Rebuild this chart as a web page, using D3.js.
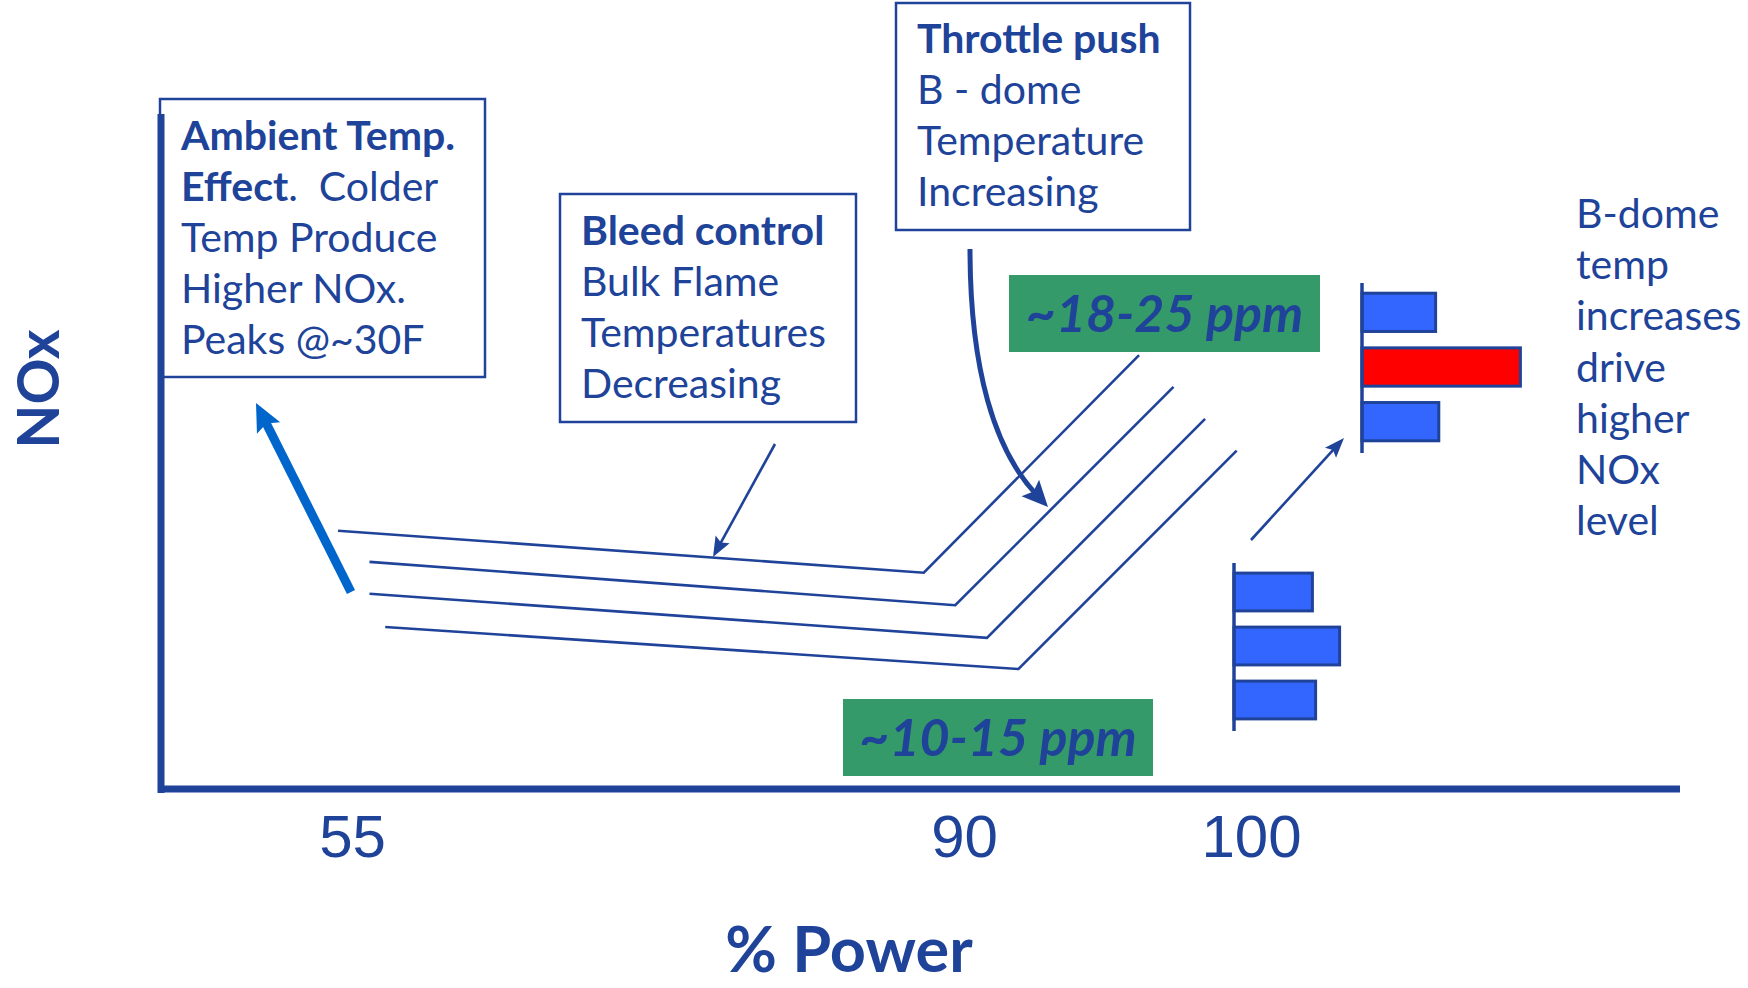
<!DOCTYPE html>
<html>
<head>
<meta charset="utf-8">
<script src="https://cdn.jsdelivr.net/npm/d3@7"></script>
<style>
  html, body { margin: 0; padding: 0; background: #ffffff; }
  svg { display: block; }
</style>
</head>
<body>
<div id="chart"></div>
<script>
// ---- data -------------------------------------------------------------
const powerTicks = [55, 90, 100];

// Four NOx-vs-power characteristics (ambient temperature family),
// each: start of bleed region, knee, end of throttle push.
const curvePower = [
  [54.2, 87.7, 96.1],
  [56.0, 89.5, 97.3],
  [56.0, 90.8, 98.4],
  [56.9, 91.9, 99.5]
];
const curveNOx = [
  [38.1, 31.9, 64.0],
  [33.5, 27.1, 59.3],
  [28.8, 22.3, 54.6],
  [23.9, 17.7, 49.9]
];

// B-dome temperature spread (relative), before and after throttle push
const domeRows = ["dome 1", "dome 2", "dome 3"];
const domeBefore = [4.9, 6.6, 5.1];
const domeAfter = [4.6, 9.9, 4.8];
const domeHot = [false, true, false];

const lowBand = "~10-15 ppm";
const highBand = "~18-25 ppm";

// ---- layout -----------------------------------------------------------
const W = 1748, H = 988;
const INK = "#20439a";
const GREEN = "#359a69";
const BAR_BLUE = "#3366ff";
const ARROW_BLUE = "#0066cc";
const FONT = "Lato, 'Open Sans', 'Noto Sans', sans-serif";

const svg = d3.select("#chart").append("svg")
  .attr("width", W).attr("height", H)
  .attr("viewBox", `0 0 ${W} ${H}`);

const x = d3.scaleLinear().domain([55, 90, 100]).range([352, 964, 1251]);
const y = d3.scaleLinear().domain([0, 100]).range([789, 111]);

// ---- annotation boxes -------------------------------------------------
function textBox(g, box, lines) {
  g.append("rect")
    .attr("x", box.x).attr("y", box.y)
    .attr("width", box.w).attr("height", box.h)
    .attr("fill", "#fff").attr("stroke", INK).attr("stroke-width", 2.5);
  const t = g.append("text")
    .attr("font-family", FONT).attr("font-size", 41).attr("fill", INK)
    .attr("xml:space", "preserve");
  lines.forEach((runs, i) => {
    runs.forEach((r, j) => {
      const ts = t.append("tspan").text(r.t)
        .attr("font-weight", r.b ? 700 : 400);
      if (j === 0) ts.attr("x", box.tx).attr("y", box.ty + i * 51);
    });
  });
}

const notes = svg.append("g");
textBox(notes, { x: 160, y: 99, w: 325, h: 278, tx: 181, ty: 150 }, [
  [{ t: "Ambient Temp.", b: true }],
  [{ t: "Effect", b: true }, { t: ".  Colder" }],
  [{ t: "Temp Produce" }],
  [{ t: "Higher NOx." }],
  [{ t: "Peaks @~30F" }]
]);
textBox(notes, { x: 560, y: 194, w: 296, h: 228, tx: 581, ty: 245 }, [
  [{ t: "Bleed control", b: true }],
  [{ t: "Bulk Flame" }],
  [{ t: "Temperatures" }],
  [{ t: "Decreasing" }]
]);
textBox(notes, { x: 896, y: 3, w: 294, h: 227, tx: 917, ty: 53 }, [
  [{ t: "Throttle push", b: true }],
  [{ t: "B - dome" }],
  [{ t: "Temperature" }],
  [{ t: "Increasing" }]
]);

const sideText = ["B-dome", "temp", "increases", "drive", "higher", "NOx", "level"];
svg.append("text")
  .attr("font-family", FONT).attr("font-size", 41).attr("fill", INK)
  .selectAll("tspan").data(sideText).join("tspan")
  .attr("x", 1576).attr("y", (d, i) => 228 + i * 51.2)
  .text(d => d);

// ---- ppm bands --------------------------------------------------------
function ppmLabel(box, label) {
  svg.append("rect").attr("x", box.x).attr("y", box.y)
    .attr("width", box.w).attr("height", box.h).attr("fill", GREEN);
  svg.append("text")
    .attr("x", box.x + box.w / 2).attr("y", box.y + box.h / 2 + 18)
    .attr("text-anchor", "middle")
    .attr("font-family", FONT).attr("font-size", 52)
    .attr("font-weight", 700).attr("font-style", "italic")
    .attr("fill", INK).text(label);
}
ppmLabel({ x: 1009, y: 275, w: 311, h: 77 }, highBand);
ppmLabel({ x: 843, y: 699, w: 310, h: 77 }, lowBand);

// ---- characteristic curves -------------------------------------------
const line = d3.line().x(d => x(d[0])).y(d => y(d[1]));
svg.append("g").selectAll("path")
  .data(curvePower.map((ps, i) => ps.map((p, k) => [p, curveNOx[i][k]])))
  .join("path")
  .attr("d", line)
  .attr("fill", "none").attr("stroke", INK).attr("stroke-width", 2.6)
  .attr("stroke-linejoin", "miter");

// ---- arrows -----------------------------------------------------------
function arrowHead(g, tip, from, len, wid, color) {
  const a = Math.atan2(tip[1] - from[1], tip[0] - from[0]);
  const bx = tip[0] - len * Math.cos(a), by = tip[1] - len * Math.sin(a);
  const nx = -Math.sin(a) * wid / 2, ny = Math.cos(a) * wid / 2;
  g.append("path")
    .attr("d", `M${tip[0]},${tip[1]}L${bx + nx},${by + ny}L${bx + len * 0.18 * Math.cos(a)},${by + len * 0.18 * Math.sin(a)}L${bx - nx},${by - ny}Z`)
    .attr("fill", color);
  return [bx + len * 0.3 * Math.cos(a), by + len * 0.3 * Math.sin(a)];
}
function straightArrow(from, tip, w, len, wid, color) {
  const g = svg.append("g");
  const end = arrowHead(g, tip, from, len, wid, color);
  g.append("line")
    .attr("x1", from[0]).attr("y1", from[1])
    .attr("x2", end[0]).attr("y2", end[1])
    .attr("stroke", color).attr("stroke-width", w);
}
// ambient temperature effect
straightArrow([351, 592], [256, 403], 9, 28, 26, ARROW_BLUE);
// bleed control
straightArrow([775, 444], [713, 557], 2.6, 20, 16, INK);
// dome spread before -> after
straightArrow([1251, 540], [1344, 438], 2.6, 20, 15, INK);

// throttle push (curved)
{
  const g = svg.append("g");
  const p0 = [970, 249], c1 = [970, 370], c2 = [995, 450], p1 = [1048, 507];
  const end = arrowHead(g, p1, c2, 26, 24, INK);
  g.append("path")
    .attr("d", `M${p0}C${c1} ${c2} ${end}`)
    .attr("fill", "none").attr("stroke", INK).attr("stroke-width", 5);
}

// ---- B-dome temperature bars -----------------------------------------
const len = d3.scaleLinear().domain([0, 10]).range([0, 160]);
function domeBars(origin, values) {
  const band = d3.scaleBand().domain(domeRows)
    .range([origin.y0, origin.y1]).paddingInner(0.3).paddingOuter(0.15);
  const g = svg.append("g").attr("transform", `translate(${origin.x},0)`);
  g.selectAll("rect").data(domeRows).join("rect")
    .attr("x", 0).attr("y", d => band(d))
    .attr("width", (d, i) => len(values[i]))
    .attr("height", band.bandwidth())
    .attr("fill", (d, i) => values === domeAfter && domeHot[i] ? "#ff0000" : BAR_BLUE)
    .attr("stroke", INK).attr("stroke-width", 3);
  g.append("line").attr("x1", 0).attr("x2", 0)
    .attr("y1", origin.y0 - 2).attr("y2", origin.y1 + 4)
    .attr("stroke", INK).attr("stroke-width", 3.5);
}
domeBars({ x: 1234, y0: 565, y1: 727 }, domeBefore);
domeBars({ x: 1362, y0: 285, y1: 449 }, domeAfter);

// ---- axes -------------------------------------------------------------
svg.append("line").attr("x1", 161).attr("x2", 161)
  .attr("y1", y(100) + 3).attr("y2", y(0) + 4)
  .attr("stroke", INK).attr("stroke-width", 7);
svg.append("line").attr("x1", 158).attr("x2", 1680)
  .attr("y1", y(0)).attr("y2", y(0))
  .attr("stroke", INK).attr("stroke-width", 7);

const xAxis = svg.append("g")
  .attr("transform", `translate(0,${y(0)})`)
  .call(d3.axisBottom(x).tickValues(powerTicks).tickSize(0).tickPadding(25)
    .tickFormat(d3.format("d")));
xAxis.select(".domain").remove();
xAxis.selectAll("text")
  .attr("font-family", "'Liberation Sans Narrow', 'Liberation Sans', sans-serif")
  .attr("font-size", 60).attr("fill", INK).attr("dy", "0.71em");

svg.append("text")
  .attr("x", 849).attr("y", 972).attr("text-anchor", "middle")
  .attr("font-family", FONT).attr("font-size", 63).attr("font-weight", 700)
  .attr("fill", INK).text("% Power");

svg.append("text")
  .attr("transform", "translate(59,389) rotate(-90)")
  .attr("text-anchor", "middle")
  .attr("font-family", FONT).attr("font-size", 57).attr("font-weight", 700)
  .attr("fill", INK).text("NOx");
</script>
</body>
</html>
